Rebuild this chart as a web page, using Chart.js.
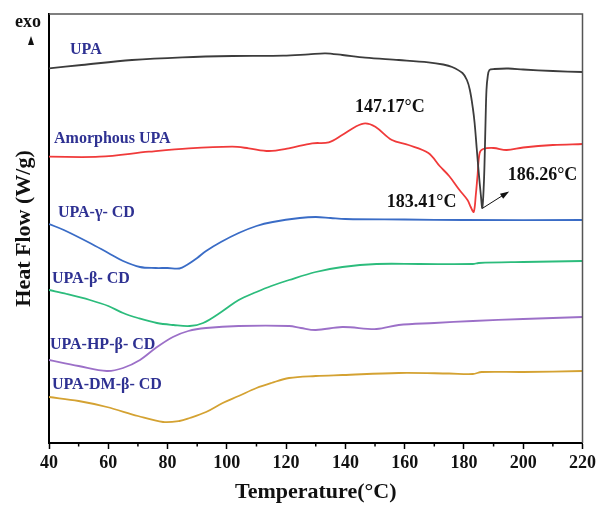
<!DOCTYPE html>
<html>
<head>
<meta charset="utf-8">
<script src="https://cdn.jsdelivr.net/npm/chart.js@4/dist/chart.umd.min.js"></script>
<style>
html,body{margin:0;padding:0;background:#fff;}
#wrap{width:600px;height:510px;}
</style>
</head>
<body>
<div id="wrap"><canvas id="c" width="600" height="510"></canvas></div>
<script>
// ---- data (temperature °C, heat flow in arbitrary offset units) ----
const xTicks = [40, 60, 80, 100, 120, 140, 160, 180, 200, 220];

const upaT = [40,51,68,85,102,119,127.6,133.3,139,146.7,158,168,173,176,179.5,181,182,183,183.6,184.3,185,185.7,186.2,186.7,187,187.3,187.6,188,188.6,190.3,195,200,210,220];
const upaV = [374.7,378,383,385.7,387,387.3,388.7,389.7,388,385.3,383,380.7,378.5,376,370,363,353,335,320,295,270,248,235,258,286,323,353,366,373,374,374.5,373.5,372,371];

const amoT = [40,57,73.7,87.2,101.8,107.4,114.2,120.9,128.8,134.4,138.9,143.4,146.7,150.1,155.7,161.3,168,171.8,175,178.5,181.2,182.3,183.3,184,184.6,185.3,186.5,190,194.4,200,210,220];
const amoV = [286.3,286.3,291.3,294.7,296.3,294.7,292,294.7,299.7,300.7,308,316.3,319.7,316.3,303,298,290,277,267,253,243,236,231,248,268,290,294,295,293,295.5,298,299];

const gamT = [40,45,53.8,60,65,70.7,76,80,84,86.5,90,93,98,104,110,115.5,124.6,130,135,140,160,180,220];
const gamV = [219,213,200,190,182,176,175,175,174.5,178,185,192,201,210,217,221,225,226,225,224,223.5,223,223];

const betT = [40,46,53.8,60,65,70,76.4,82,87.5,92,98.6,104,110,115,121,130,139,150.5,165,183,185,200,220];
const betV = [153,149,143,137,130,125,120,118,117,120,132,143,151,157,163,171,176,179,179,179,180,181,182];

const hpT = [40,50,59.5,65,70.7,76,81.8,87,93,104,121,125,130,139,150.5,158,170,183,200,220];
const hpV = [83,77,72,75,83,95,106,112,115,117,117,115,113,116,114,118,120,122,124,126];

const dmT = [40,50,59.5,70,78.5,84,87.5,93,98.6,104,110,115,121,130,139,158,175,183,186,200,220];
const dmV = [46,42,36,27,21,22,25,31,40,47,55,60,65,67,68,70,69.5,69,71,71,72];

const seriesNames = ['UPA','Amorphous UPA','UPA-γ- CD','UPA-β- CD','UPA-HP-β- CD','UPA-DM-β- CD'];
const seriesColors = ['#3c3c3c','#f03a3a','#3a6cc6','#2cbc7c','#9c70c8','#d4a232'];
const peakLabels = ['147.17°C','183.41°C','186.26°C'];

// ---- build ----
function pts(t, v){ return t.map((x,i)=>({x:x, y:v[i]})); }
const seriesData = [pts(upaT,upaV), pts(amoT,amoV), pts(gamT,gamV), pts(betT,betV), pts(hpT,hpV), pts(dmT,dmV)];

// annotation placement (data coords)
const nameLabelPos = [[47.1,393],[41.7,304],[43,230],[41,164],[40.3,98],[41,58]];
const peakLabelPos = [[155,336],[165.7,241],[206.5,268]];
const arrowPos = [[186.4,235],[194.4,250]];

const SERIF = '"Liberation Serif","Times New Roman",serif';

const decor = {
  id:'decor',
  afterDatasetsDraw(chart){
    const {ctx, chartArea:a, scales:{x,y}} = chart;
    ctx.save();
    // top & right frame
    ctx.strokeStyle = '#555';
    ctx.lineWidth = 1.5;
    ctx.beginPath();
    ctx.moveTo(a.left, a.top); ctx.lineTo(a.right, a.top); ctx.lineTo(a.right, a.bottom);
    ctx.stroke();
    // minor ticks
    ctx.strokeStyle = '#000';
    ctx.lineWidth = 1.5;
    for (let i=0;i<xTicks.length-1;i++){
      const px = x.getPixelForValue((xTicks[i]+xTicks[i+1])/2);
      ctx.beginPath(); ctx.moveTo(px, a.bottom); ctx.lineTo(px, a.bottom+3.5); ctx.stroke();
    }
    // series names
    ctx.fillStyle = '#2e3192';
    ctx.font = 'bold 16px ' + SERIF;
    ctx.textBaseline = 'middle';
    ctx.textAlign = 'left';
    seriesNames.forEach((n,i)=>{
      ctx.fillText(n, x.getPixelForValue(nameLabelPos[i][0]), y.getPixelForValue(nameLabelPos[i][1]));
    });
    // peak labels
    ctx.fillStyle = '#111';
    ctx.font = 'bold 18px ' + SERIF;
    ctx.textAlign = 'center';
    peakLabels.forEach((n,i)=>{
      ctx.fillText(n, x.getPixelForValue(peakLabelPos[i][0]), y.getPixelForValue(peakLabelPos[i][1]));
    });
    // arrow
    const x1 = x.getPixelForValue(arrowPos[0][0]), y1 = y.getPixelForValue(arrowPos[0][1]);
    const x2 = x.getPixelForValue(arrowPos[1][0]), y2 = y.getPixelForValue(arrowPos[1][1]);
    ctx.strokeStyle = '#111'; ctx.lineWidth = 1;
    ctx.beginPath(); ctx.moveTo(x1,y1); ctx.lineTo(x2,y2); ctx.stroke();
    const ang = Math.atan2(y2-y1, x2-x1);
    ctx.fillStyle = '#111';
    ctx.beginPath();
    ctx.moveTo(x2 + 3*Math.cos(ang), y2 + 3*Math.sin(ang));
    ctx.lineTo(x2 - 6*Math.cos(ang) + 3*Math.sin(ang), y2 - 6*Math.sin(ang) - 3*Math.cos(ang));
    ctx.lineTo(x2 - 6*Math.cos(ang) - 3*Math.sin(ang), y2 - 6*Math.sin(ang) + 3*Math.cos(ang));
    ctx.closePath(); ctx.fill();
    // exo
    ctx.fillStyle = '#111';
    ctx.font = 'bold 18px ' + SERIF;
    ctx.textAlign = 'center';
    ctx.textBaseline = 'alphabetic';
    ctx.fillText('exo', a.left - 21, a.top + 13);
    ctx.beginPath();
    ctx.moveTo(a.left - 18, a.top + 22);
    ctx.lineTo(a.left - 21, a.top + 31);
    ctx.lineTo(a.left - 15, a.top + 31);
    ctx.closePath(); ctx.fill();
    ctx.restore();
  }
};

new Chart(document.getElementById('c'), {
  type: 'scatter',
  data: {
    datasets: seriesData.map((d,i)=>({
      label: seriesNames[i],
      data: d,
      showLine: true,
      borderColor: seriesColors[i],
      borderWidth: 1.8,
      pointRadius: 0,
      tension: 0.35,
      fill: false
    }))
  },
  options: {
    responsive: false,
    animation: false,
    layout: { padding: { left: 0, right: 17, top: 14, bottom: 0 } },
    plugins: { legend: { display: false }, tooltip: { enabled: false } },
    scales: {
      x: {
        type: 'linear', min: 40, max: 220,
        afterBuildTicks(s){ s.ticks = xTicks.map(v=>({value:v})); },
        afterFit(s){ s.height = 67; },
        ticks: { color: '#111', font: { family: SERIF, size: 18, weight: 'bold' }, padding: 4, maxRotation: 0 },
        grid: { drawOnChartArea: false, drawTicks: true, tickLength: 6, tickColor: '#000', tickWidth: 1.5 },
        border: { color: '#000', width: 2 },
        title: { display: true, text: 'Temperature(°C)', color: '#111', font: { family: SERIF, size: 22, weight: 'bold' }, padding: { top: 0, bottom: 4 } }
      },
      y: {
        type: 'linear', min: 0, max: 429,
        afterFit(s){ s.width = 49; },
        ticks: { display: false },
        grid: { drawOnChartArea: false, drawTicks: false },
        border: { color: '#000', width: 2 },
        title: { display: true, text: 'Heat Flow (W/g)', color: '#111', font: { family: SERIF, size: 22, weight: 'bold' }, padding: { top: 11, bottom: 0 } }
      }
    }
  },
  plugins: [decor]
});
</script>
</body>
</html>
